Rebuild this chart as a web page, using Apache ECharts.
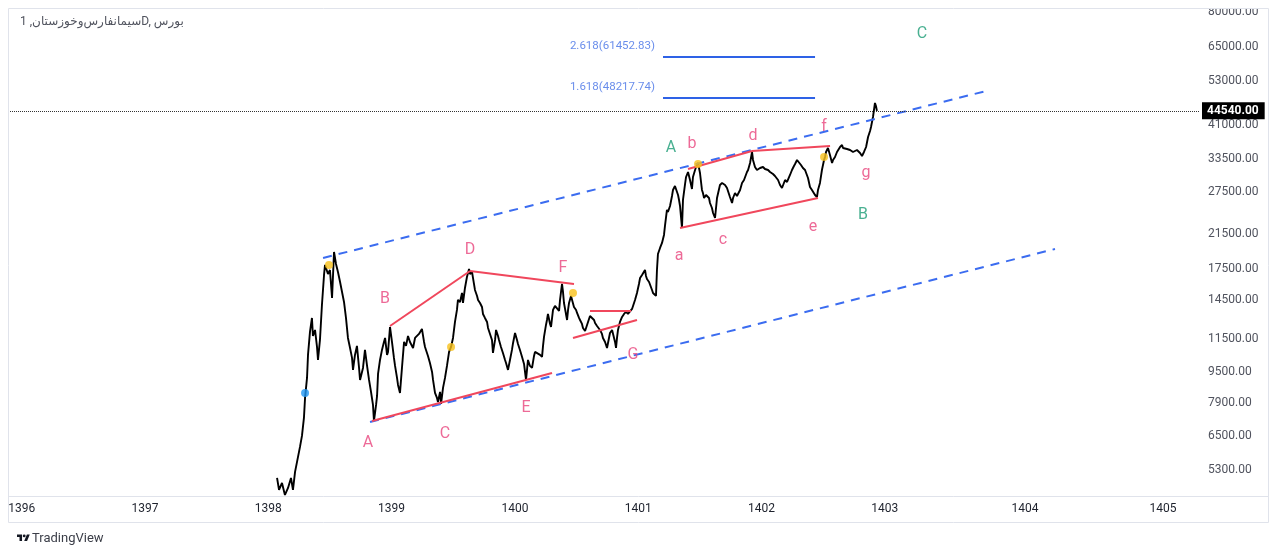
<!DOCTYPE html>
<html>
<head>
<meta charset="utf-8">
<script src="https://cdn.jsdelivr.net/npm/echarts@6/dist/echarts.min.js"></script>
<style>
  html, body { margin: 0; padding: 0; background: #fff; }
  #main { width: 1280px; height: 557px; }
</style>
</head>
<body>
<div id="main"></div>
<script>
// سیمان فارس و خوزستان - daily closes (date in fractional Persian year)
var dates = [
  1398.071,1398.087,1398.111,1398.135,1398.160,1398.184,1398.200,1398.217,1398.233,1398.257,
  1398.273,1398.289,1398.298,1398.314,1398.322,1398.338,1398.354,1398.362,1398.379,1398.395,
  1398.403,1398.419,1398.435,1398.452,1398.460,1398.476,1398.484,1398.500,1398.517,1398.533,
  1398.549,1398.565,1398.582,1398.598,1398.614,1398.630,1398.646,1398.663,1398.679,1398.687,
  1398.703,1398.719,1398.736,1398.744,1398.760,1398.768,1398.784,1398.801,1398.817,1398.833,
  1398.849,1398.857,1398.874,1398.882,1398.890,1398.906,1398.922,1398.938,1398.947,1398.963,
  1398.971,1398.987,1399.003,1399.019,1399.028,1399.044,1399.052,1399.068,1399.084,1399.101,
  1399.117,1399.133,1399.149,1399.174,1399.190,1399.206,1399.222,1399.246,1399.263,1399.271,
  1399.295,1399.311,1399.328,1399.336,1399.352,1399.368,1399.376,1399.393,1399.401,1399.417,
  1399.433,1399.449,1399.466,1399.482,1399.498,1399.514,1399.530,1399.538,1399.555,1399.571,
  1399.579,1399.595,1399.611,1399.628,1399.636,1399.652,1399.668,1399.676,1399.693,1399.701,
  1399.717,1399.733,1399.741,1399.757,1399.774,1399.782,1399.798,1399.814,1399.822,1399.839,
  1399.847,1399.863,1399.871,1399.887,1399.903,1399.920,1399.928,1399.944,1399.960,1399.976,
  1399.985,1400.001,1400.017,1400.025,1400.041,1400.058,1400.074,1400.090,1400.098,1400.106,
  1400.122,1400.139,1400.155,1400.163,1400.179,1400.204,1400.220,1400.228,1400.236,1400.252,
  1400.260,1400.268,1400.285,1400.293,1400.309,1400.325,1400.341,1400.358,1400.366,1400.382,
  1400.390,1400.398,1400.414,1400.423,1400.431,1400.439,1400.455,1400.479,1400.496,1400.504,
  1400.520,1400.528,1400.544,1400.552,1400.569,1400.577,1400.593,1400.609,1400.625,1400.642,
  1400.650,1400.666,1400.674,1400.690,1400.706,1400.714,1400.731,1400.747,1400.763,1400.771,
  1400.788,1400.796,1400.812,1400.820,1400.828,1400.836,1400.852,1400.869,1400.885,1400.901,
  1400.917,1400.933,1400.950,1400.958,1400.974,1400.990,1401.006,1401.015,1401.031,1401.039,
  1401.055,1401.063,1401.071,1401.088,1401.096,1401.112,1401.120,1401.136,1401.144,1401.152,
  1401.160,1401.177,1401.193,1401.209,1401.217,1401.233,1401.241,1401.258,1401.274,1401.282,
  1401.298,1401.323,1401.331,1401.339,1401.355,1401.363,1401.380,1401.388,1401.404,1401.420,
  1401.436,1401.444,1401.461,1401.469,1401.485,1401.493,1401.501,1401.517,1401.525,1401.534,
  1401.550,1401.558,1401.574,1401.582,1401.598,1401.607,1401.623,1401.631,1401.639,1401.663,
  1401.680,1401.704,1401.720,1401.728,1401.744,1401.761,1401.769,1401.785,1401.801,1401.826,
  1401.842,1401.858,1401.866,1401.882,1401.891,1401.907,1401.923,1401.931,1401.947,1401.963,
  1401.988,1402.012,1402.028,1402.053,1402.069,1402.093,1402.109,1402.134,1402.150,1402.166,
  1402.174,1402.191,1402.207,1402.231,1402.247,1402.263,1402.272,1402.288,1402.304,1402.320,
  1402.336,1402.353,1402.369,1402.377,1402.393,1402.409,1402.418,1402.434,1402.450,1402.458,
  1402.474,1402.490,1402.507,1402.515,1402.523,1402.539,1402.555,1402.572,1402.580,1402.596,
  1402.612,1402.620,1402.637,1402.653,1402.661,1402.677,1402.693,1402.702,1402.718,1402.742,
  1402.758,1402.774,1402.783,1402.799,1402.815,1402.823,1402.831,1402.848,1402.864,1402.880,
  1402.888,1402.904,1402.920,1402.928,1402.936
];
var closes = [
  5062,4715,4915,4577,4771,5062,4715,5245,5566,6083,
  6492,7222,8131,9154,10490,12020,13059,11738,12163,10998,
  10183,11464,14104,16847,17875,18088,16947,17353,14701,19306,
  17981,17149,16162,15233,14357,13059,11600,10933,10305,9598,
  10490,11064,9712,9046,9485,9712,10805,9828,9046,8426,
  7800,7096,7800,8228,9373,10183,10805,11329,11600,10490,
  10678,12381,11329,10305,9828,9154,8782,8376,9712,11329,
  11064,11738,11329,10933,11600,11464,11878,12235,11329,10998,
  10428,10004,9485,9046,8376,8131,7940,8426,7847,8627,
  9154,9828,10678,10998,11600,12753,13693,14528,14357,15143,
  14272,15598,16648,17456,16947,17149,15972,15415,14877,14528,
  14272,13938,13372,13059,12753,12308,11878,11464,10614,11464,
  12163,11738,11464,10998,10614,10183,10004,9598,10183,10805,
  11262,11949,11464,11195,10805,10366,9945,9046,9598,10183,
  9828,9712,10428,10678,10805,10490,10366,11064,11669,12528,
  12905,13372,12603,12381,13693,14021,13938,13612,14528,15972,
  15233,14272,13372,12905,13693,14272,14877,13938,13693,13452,
  13059,12905,12603,12308,12091,11949,12753,13215,13372,12905,
  12678,12454,12308,12163,11878,11600,11329,10933,11600,11949,
  12163,12091,11329,10933,11600,12163,12753,13137,13372,13532,
  13372,13452,13774,13938,14528,15143,15972,16550,16847,17047,
  17353,16747,16452,16162,15972,15415,15143,15054,14877,17353,
  19079,19768,20363,21351,22520,24758,24466,25352,26899,27872,
  28540,27059,26269,25352,22255,26269,28880,30103,31007,29573,
  28037,30103,31377,31940,32705,31751,30824,27872,27381,26582,
  27059,27381,26582,25806,25053,24322,23612,25053,26582,28710,
  29052,28710,28204,27872,26740,25806,26582,27381,26899,27872,
  29052,29573,29925,31007,31377,32705,34907,33292,31940,31377,
  31751,31940,31563,31377,31007,30642,30281,29573,28710,28204,
  28540,29573,29224,30461,31377,32129,32512,33292,33292,32320,
  31751,31377,31377,29925,28372,27872,27544,27059,26740,27872,
  29052,31377,33292,33888,34907,35743,34292,32705,33292,33888,
  34907,35323,35955,36384,35743,35323,35532,35743,35323,34907,
  35114,35323,34907,34701,34090,33888,34907,35955,38150,39530,
  40477,42948,46660,45840,44540
];

var lastPrice = 44540;
var priceTicks = [5300, 6500, 7900, 9500, 11500, 14500, 17500, 21500, 27500, 33500, 41000, 53000, 65000, 80000];
var yearLabels = ['1396', '1397', '1398', '1399', '1400', '1401', '1402', '1403', '1404', '1405'];
var yearPos = [1396, 1397, 1398, 1399, 1400, 1401, 1402, 1403, 1404.137, 1405.256];

// fibonacci extension levels
var fibRatios = ['2.618', '1.618'];
var fibValues = [61452.83, 48217.74];
var fibFrom = 1401.201, fibTo = 1402.434;

// channel (blue dashed)
var channelLines = [
  [[1398.444, 18630], [1403.853, 50396]],
  [[1398.825, 7050], [1404.380, 19649]]
];
// pattern lines (red)
var patternLines = [
  [[1398.841, 7091], [1400.301, 9425]],
  [[1398.987, 12452], [1399.636, 17246]],
  [[1399.636, 17246], [1400.479, 15969]],
  [[1400.609, 13610], [1400.942, 13610]],
  [[1400.471, 11598], [1400.990, 12903]],
  [[1401.404, 31562], [1401.923, 35113]],
  [[1401.923, 35113], [1402.556, 36169]],
  [[1401.339, 22250], [1402.458, 26578]]
];

var pinkNames = ['A', 'B', 'C', 'D', 'E', 'F', 'G', 'a', 'b', 'c', 'd', 'e', 'f', 'g'];
var pinkPos = [
  [1398.809, 6226], [1398.946, 14612], [1399.433, 6567], [1399.636, 19533], [1400.090, 7660],
  [1400.390, 17555], [1400.958, 10486], [1401.331, 18850], [1401.436, 36600], [1401.688, 20725],
  [1401.931, 38376], [1402.418, 22382], [1402.507, 40478], [1402.848, 30822]
];
var greenNames = ['A', 'B', 'C'];
var greenPos = [[1401.266, 35742], [1402.823, 24034], [1403.302, 70225]];

var orangeDots = [[1398.492, 17871], [1399.482, 10995], [1400.471, 15141], [1401.485, 32510], [1402.507, 33886]];
var blueDots = [[1398.298, 8373]];

var priceData = dates.map(function (d, i) { return [d, closes[i]]; });

var myChart = echarts.init(document.getElementById('main'));
var fontFam = 'Roboto, "DejaVu Sans", sans-serif';

function segs(list) {
  return list.map(function (s) { return { coords: s }; });
}
function named(names, pos) {
  return names.map(function (n, i) { return { name: n, value: pos[i] }; });
}

var option = {
  backgroundColor: '#fff',
  animation: false,
  textStyle: { fontFamily: fontFam },
  grid: { left: 8, right: 80, top: 8, bottom: 61 },
  xAxis: {
    type: 'value',
    min: 1395.889,
    max: 1405.556,
    axisLine: { show: false },
    axisTick: { show: false },
    splitLine: { show: false },
    axisLabel: {
      customValues: yearPos,
      margin: 7,
      color: '#1e222d',
      fontSize: 12,
      fontFamily: fontFam,
      formatter: function (v) {
        var best = 0;
        yearPos.forEach(function (p, i) { if (Math.abs(p - v) < Math.abs(yearPos[best] - v)) best = i; });
        return yearLabels[best];
      }
    }
  },
  yAxis: {
    type: 'log',
    position: 'right',
    min: 4548,
    max: 81918,
    axisLine: { show: false },
    axisTick: { show: false },
    splitLine: { show: false },
    axisLabel: {
      customValues: priceTicks,
      margin: 8,
      color: '#50535e',
      fontSize: 12,
      fontFamily: fontFam,
      formatter: function (v) { return Number(v).toFixed(2); }
    }
  },
  series: [
    {
      type: 'line',
      data: priceData,
      showSymbol: false,
      lineStyle: { color: '#000', width: 1.9 },
      z: 3,
      markLine: {
        silent: true,
        symbol: 'none',
        data: [{ yAxis: lastPrice }],
        lineStyle: { color: '#333', width: 1, type: 'dotted' },
        label: {
          position: 'end',
          distance: 2,
          formatter: lastPrice.toFixed(2),
          color: '#fff',
          backgroundColor: '#000',
          fontWeight: 'bold',
          fontSize: 12,
          padding: [3, 6, 2, 5]
        }
      }
    },
    {
      type: 'lines',
      coordinateSystem: 'cartesian2d',
      data: segs(channelLines),
      lineStyle: { color: '#3b6cf0', width: 2, type: [9, 7], opacity: 1 },
      z: 4
    },
    {
      type: 'lines',
      coordinateSystem: 'cartesian2d',
      data: segs(patternLines),
      lineStyle: { color: '#f0475c', width: 2, opacity: 1 },
      z: 4
    },
    {
      type: 'lines',
      coordinateSystem: 'cartesian2d',
      data: fibValues.map(function (v) { return { coords: [[fibFrom, v], [fibTo, v]] }; }),
      lineStyle: { color: '#2e62e6', width: 2, opacity: 1 },
      z: 4
    },
    {
      type: 'scatter',
      symbolSize: 0,
      data: fibValues.map(function (v, i) { return { name: fibRatios[i] + '(' + v.toFixed(2) + ')', value: [fibFrom, v] }; }),
      label: {
        show: true,
        position: 'left',
        distance: 8,
        offset: [0, -10],
        formatter: '{b}',
        color: '#4470e6',
        fontSize: 11.5,
        fontFamily: fontFam
      },
      z: 5
    },
    {
      type: 'scatter',
      symbolSize: 0,
      data: named(pinkNames, pinkPos),
      label: { show: true, position: 'inside', formatter: '{b}', color: '#e8457d', fontSize: 16, fontFamily: fontFam },
      z: 5
    },
    {
      type: 'scatter',
      symbolSize: 0,
      data: named(greenNames, greenPos),
      label: { show: true, position: 'inside', formatter: '{b}', color: '#1c9c76', fontSize: 16, fontFamily: fontFam },
      z: 5
    },
    {
      type: 'scatter',
      symbolSize: 8,
      data: orangeDots,
      itemStyle: { color: '#f7c11a' },
      z: 6
    },
    {
      type: 'scatter',
      symbolSize: 8,
      data: blueDots,
      itemStyle: { color: '#2196f3' },
      z: 6
    }
  ],
  graphic: [
    // clip outside the frame
    { type: 'rect', shape: { x: 0, y: 0, width: 1280, height: 8 }, style: { fill: '#fff' }, z: 100, silent: true },
    { type: 'rect', shape: { x: 0, y: 0, width: 8, height: 557 }, style: { fill: '#fff' }, z: 100, silent: true },
    { type: 'rect', shape: { x: 1269, y: 0, width: 11, height: 557 }, style: { fill: '#fff' }, z: 100, silent: true },
    { type: 'rect', shape: { x: 0, y: 523, width: 1280, height: 34 }, style: { fill: '#fff' }, z: 100, silent: true },
    { type: 'rect', shape: { x: 8.5, y: 8.5, width: 1260, height: 514 }, style: { fill: 'none', stroke: '#e0e3eb', lineWidth: 1 }, z: 101, silent: true },
    { type: 'line', shape: { x1: 8, y1: 496.5, x2: 1269, y2: 496.5 }, style: { stroke: '#e0e3eb', lineWidth: 1 }, z: 101, silent: true },
    // title
    {
      type: 'text', x: 20, y: 16, z: 102,
      style: { text: 'سیمانفارس‌وخوزستان, 1D, بورس', fill: '#50535e', fontSize: 12, fontFamily: fontFam }
    },
    // TradingView mark
    {
      type: 'group', x: 17, y: 533, scaleX: 0.36, scaleY: 0.36, z: 102,
      children: [
        { type: 'polygon', shape: { points: [[0, 4], [14, 4], [14, 22], [7, 22], [7, 11], [0, 11]] }, style: { fill: '#131722' }, z: 102 },
        { type: 'polygon', shape: { points: [[20, 22], [27.5, 4], [35.5, 4], [28, 22]] }, style: { fill: '#131722' }, z: 102 },
        { type: 'circle', shape: { cx: 20, cy: 8, r: 4 }, style: { fill: '#131722' }, z: 102 }
      ]
    },
    {
      type: 'text', x: 32, y: 532, z: 102,
      style: { text: 'TradingView', fill: '#3b3e48', fontSize: 13, fontFamily: fontFam }
    }
  ]
};
myChart.setOption(option);

window.onresize = function () {
  myChart.resize();
};
</script>
</body>
</html>
